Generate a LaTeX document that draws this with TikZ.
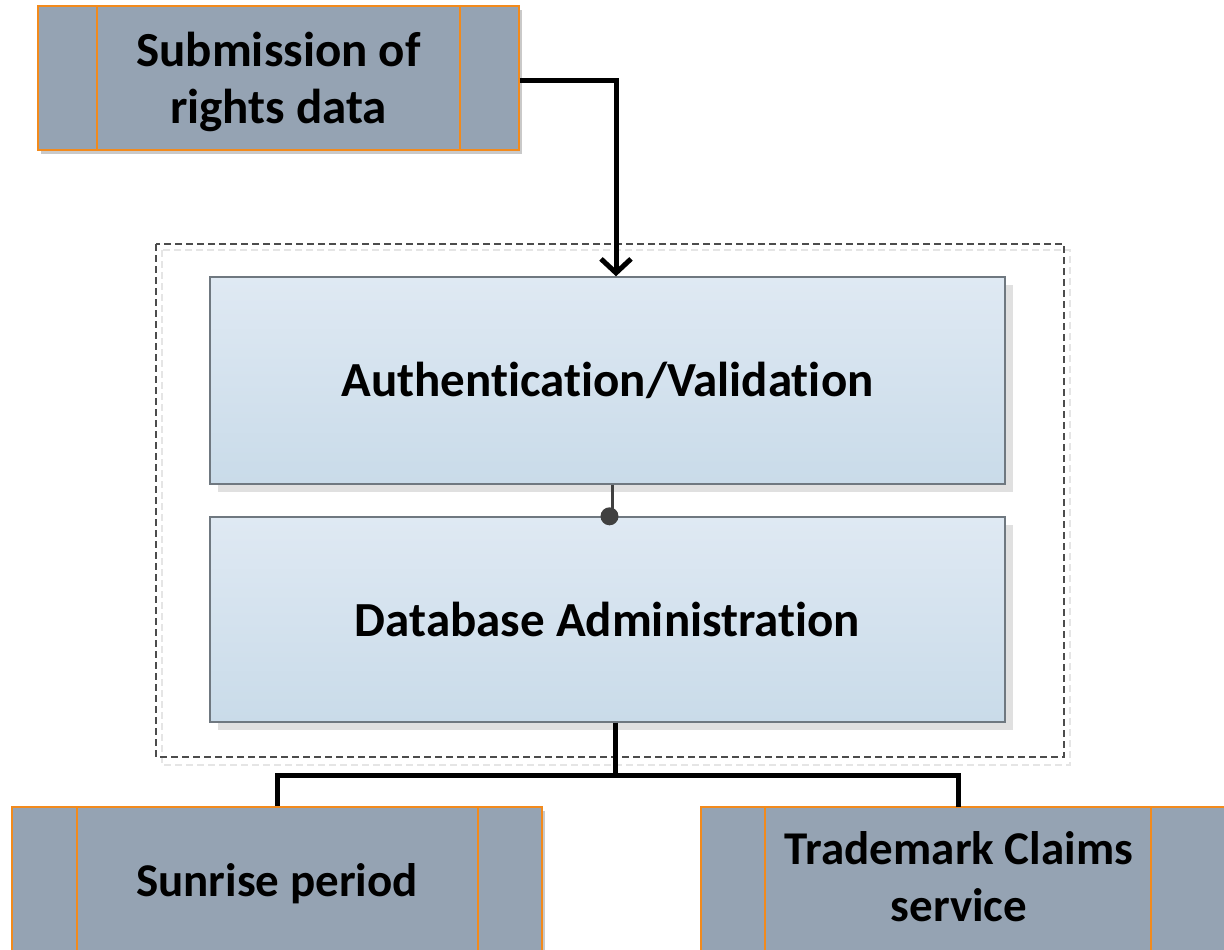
\documentclass[tikz,border=0pt]{standalone}
\usepackage{fontspec}
\setmainfont[Ligatures=NoCommon]{Carlito}
\usetikzlibrary{arrows.meta,shadows,calc}
\definecolor{boxgray}{HTML}{95A3B3}
\definecolor{orng}{HTML}{F28A1C}
\definecolor{blueTop}{HTML}{DFE9F3}
\definecolor{blueBot}{HTML}{C9DBE9}
\definecolor{blueEdge}{HTML}{6F7880}
\definecolor{dotgray}{HTML}{404040}
\tikzset{
  txt/.style={font=\bfseries\fontsize{49}{57}\selectfont, align=center, text=black},
  txtsmall/.style={font=\bfseries\fontsize{47}{57}\selectfont, align=center, text=black},
  procbox/.style={draw=orng, line width=1.6pt, fill=boxgray,
    drop shadow={shadow xshift=3pt, shadow yshift=-4pt, opacity=0.35, fill=black!60}},
  divider/.style={draw=orng, line width=1.6pt},
  bluebox/.style={draw=blueEdge, line width=1.4pt, top color=blueTop, bottom color=blueBot,
    drop shadow={shadow xshift=8pt, shadow yshift=-8pt, opacity=1, fill=black!12}},
  container/.style={draw=black!70, line width=1.1pt, dash pattern=on 7pt off 4pt},
  containershadow/.style={draw=black!10, line width=1.4pt, dash pattern=on 7pt off 4pt},
  conn/.style={line width=5pt, draw=black},
  arr/.style={conn, -{Straight Barb[length=14pt, width=30pt]}},
  dotconn/.style={line width=3pt, draw=dotgray},
}
\begin{document}
\begin{tikzpicture}[x=1pt,y=-1pt]
\useasboundingbox[fill=white] (0,0) rectangle (1224,950);

% container
\draw[containershadow] (162,250) rectangle (1070,765);
\draw[container] (156,244) rectangle (1064,757);
\node[coordinate] (contnw) at (156,244) {};

% top box
\node[procbox, minimum width=481pt, minimum height=144pt, inner sep=0pt] (sub) at (278.5,78) {};
\draw[divider] (sub.north west) ++(60,0) coordinate (sd1) -- (sd1 |- sub.south);
\draw[divider] (sub.north east) ++(-60,0) coordinate (sd2) -- (sd2 |- sub.south);
\node[txt] (subt) at (278.5,81.5) {Submission of\\rights data};

% blue boxes
\node[bluebox, minimum width=795pt, minimum height=207pt, inner sep=0pt] (auth) at (607.5,380.5) {};
\node[txt] (autht) at (auth.center) {Authentication/Validation};
\node[bluebox, minimum width=795pt, minimum height=205pt, inner sep=0pt] (db) at (607.5,619.5) {};
\node[txt] (dbt) at (db.center) {Database Administration};

% bottom boxes
\node[procbox, minimum width=530pt, minimum height=180pt, inner sep=0pt] (sun) at (277,897) {};
\draw[divider] (sun.north west) ++(66,0) coordinate (bd1) -- (bd1 |- sun.south);
\draw[divider] (sun.north east) ++(-65,0) coordinate (bd2) -- (bd2 |- sun.south);
\node[txtsmall] (sunt) at (277,884) {Sunrise period};

\node[procbox, minimum width=540pt, minimum height=180pt, inner sep=0pt] (tm) at (971,897) {};
\draw[divider] (tm.north west) ++(65,0) coordinate (td1) -- (td1 |- tm.south);
\draw[divider] (tm.north west) ++(451,0) coordinate (td2) -- (td2 |- tm.south);
\node[txtsmall] (tmt) at (959,877) {Trademark Claims\\service};

% connectors
\coordinate (authin) at ($(auth.north)+(8.5,0)$);
\draw[arr] (sub.east |- 0,81) -| (authin);

\coordinate (authout) at ($(auth.south)+(4.5,0)$);
\coordinate (dbin) at ($(db.north)+(2,0)$);
\draw[dotconn] (authout) -- (authout |- dbin);
\fill[dotgray] (dbin) circle (9pt);

\coordinate (dbout) at ($(db.south)+(7.5,0)$);
\coordinate (junc) at (615,775);
\coordinate (tmin) at (958,807);
\draw[conn] (dbout) -- (junc) -| (sun.north);
\draw[conn] (junc) -| (tmin);
\end{tikzpicture}
\end{document}
